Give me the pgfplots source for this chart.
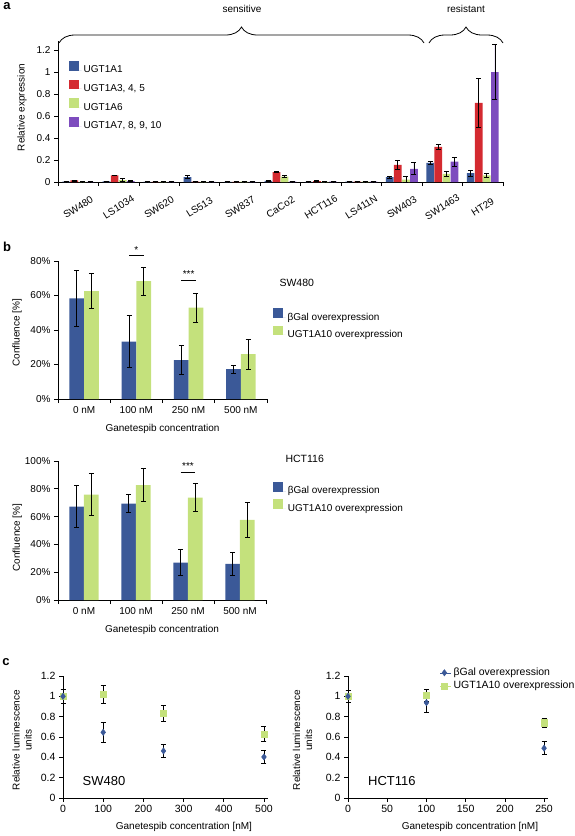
\documentclass[border=0pt]{standalone}
\usepackage{pgfplots}
\pgfplotsset{compat=1.18}
\usepackage{pgfplotstable}
\usepackage{fontspec}
\setmainfont{Liberation Sans}
\usetikzlibrary{decorations.pathreplacing}
\definecolor{cblue}{HTML}{3B5998}
\definecolor{cred}{HTML}{D42A30}
\definecolor{cgreen}{HTML}{C4E17C}
\definecolor{cpurple}{HTML}{7D4CBE}

\pgfplotstableread{
x a1 e1 a3 e3 a6 e6 a7 e7
0 0.004 0.002 0.014 0.004 0.002 0.001 0.002 0.001
1 0.005 0.002 0.060 0.004 0.018 0.015 0.008 0.004
2 0.002 0.001 0.002 0.001 0.002 0.001 0.002 0.001
3 0.045 0.015 0.003 0.001 0.002 0.001 0.002 0.001
4 0.002 0.001 0.002 0.001 0.003 0.001 0.002 0.001
5 0.010 0.003 0.090 0.006 0.050 0.006 0.003 0.001
6 0.002 0.001 0.008 0.004 0.002 0.001 0.004 0.002
7 0.003 0.001 0.003 0.001 0.003 0.001 0.003 0.001
8 0.045 0.008 0.155 0.040 0.022 0.025 0.120 0.055
9 0.175 0.015 0.320 0.025 0.075 0.022 0.185 0.040
10 0.080 0.025 0.720 0.220 0.060 0.022 1.000 0.250
}\tabA

\pgfplotstableread{
x b eb g eg
0 58.3 16.3 62.5 10.2
1 33.3 15.0 68.3 8.2
2 22.5 8.5 53.0 8.5
3 17.3 2.3 26.0 8.7
}\tabBa

\pgfplotstableread{
x b eb g eg
0 67.2 15.0 75.8 15.0
1 69.3 6.5 82.6 12.0
2 26.9 9.5 73.6 10.2
3 26.0 8.5 57.6 12.3
}\tabBb

\pgfplotstableread{
x b eb g eg
0 1.00 0.07 1.00 0.07
100 0.646 0.10 1.02 0.09
250 0.463 0.06 0.835 0.077
500 0.404 0.067 0.63 0.073
}\tabCa

\pgfplotstableread{
x b eb g eg
0 1.00 0.06 1.00 0.06
100 0.938 0.10 1.01 0.055
250 0.49 0.065 0.74 0.045
}\tabCb

\pgfplotsset{
  mybase/.style={
    scale only axis, anchor=south west,
    axis lines=left,
    axis line style={-, black, line width=0.7pt},
    tick align=outside,
    major tick length=4pt, minor tick length=4pt,
    tick style={black, line width=0.7pt},
    /pgf/number format/assume math mode=true,
    tick label style={font=\fontsize{10}{12}\selectfont, black},
    label style={font=\fontsize{10}{12}\selectfont},
    legend style={draw=none, fill=none, font=\fontsize{10}{12}\selectfont, legend cell align=left},
    clip=false,
  },
  ebar/.style={error bars/.cd, y dir=both, y explicit,
    error bar style={draw=black, line width=0.8pt},
    error mark options={rotate=90, draw=black, mark size=2.5pt, line width=0.8pt}},
  patchleg/.style={legend image code/.code={\fill[##1] (0pt,-0.5pt) rectangle (9.5pt,9pt); \path (0pt,0pt) -- (12.5pt,0pt);}},
  markleg/.style={legend image code/.code={\draw[only marks, ##1] plot coordinates {(4pt,0pt)}; \path (0pt,0pt) -- (11pt,0pt);}},
  bpanel/.style={mybase, ybar=0pt, bar width=0.28,
    xmin=-0.5, xmax=3.5, ymin=0,
    xtick={0,1,2,3}, xticklabels={0 nM,100 nM,250 nM,500 nM},
    major x tick style={draw=none}, minor xtick={-0.5,0.5,1.5,2.5,3.5},
    yticklabel={\pgfmathprintnumber{\tick}\%},
    xlabel={Ganetespib concentration},
    ylabel={Confluence [\%]},
    patchleg,
    legend style={row sep=2pt},
  },
  cpanel/.style={mybase, ymin=0, ymax=1.2,
    ytick={0,0.2,0.4,0.6,0.8,1,1.2},
    tick label style={font=\fontsize{10.5}{12.5}\selectfont},
    label style={font=\fontsize{10.5}{12.5}\selectfont},
    xlabel={Ganetespib concentration [nM]},
    ylabel={Relative luminescence\\units},
  },
}

\begin{document}
\begin{tikzpicture}[x=1pt,y=1pt]
\path[use as bounding box] (0,0) rectangle (575,-836);

% ---------------- panel a ----------------
\node[font=\bfseries\fontsize{13}{15}\selectfont] at (7,-6) {a};
\begin{axis}[mybase, at={(58pt,-182pt)}, width=445pt, height=140.8pt,
  ybar=0.4pt, bar width=0.19,
  xmin=-0.5, xmax=10.5, ymin=0, ymax=1.28,
  xtick={0,...,10},
  xticklabels={SW480,LS1034,SW620,LS513,SW837,CaCo2,HCT116,LS411N,SW403,SW1463,HT29},
  major x tick style={draw=none},
  minor xtick={-0.5,0.5,...,10.5},
  xticklabel style={yshift=-21pt, rotate=32, anchor=center},
  ytick={0,0.2,0.4,0.6,0.8,1,1.2},
  ylabel={Relative expression},
  every axis y label/.style={at={(axis description cs:-0.081,0.53)}, rotate=90, anchor=center},
  patchleg,
  legend style={at={(0.018,0.875)}, anchor=north west, row sep=3.5pt},
]
\addplot[fill=cblue, draw=none, ebar] table[x=x, y=a1, y error=e1] {\tabA};
\addlegendentry{UGT1A1}
\addplot[fill=cred, draw=none, ebar] table[x=x, y=a3, y error=e3] {\tabA};
\addlegendentry{UGT1A3, 4, 5}
\addplot[fill=cgreen, draw=none, ebar] table[x=x, y=a6, y error=e6] {\tabA};
\addlegendentry{UGT1A6}
\addplot[fill=cpurple, draw=none, ebar] table[x=x, y=a7, y error=e7] {\tabA};
\addlegendentry{UGT1A7, 8, 9, 10}
\end{axis}
\draw[decorate, decoration={brace, amplitude=16pt}, line width=0.8pt] (59,-43) -- (424,-43);
\draw[decorate, decoration={brace, amplitude=16pt}, line width=0.8pt] (429,-43) -- (503,-43);
\node[font=\fontsize{10}{12}\selectfont] at (242,-9) {sensitive};
\node[font=\fontsize{10}{12}\selectfont] at (466,-9) {resistant};

% ---------------- panel b (SW480) ----------------
\node[font=\bfseries\fontsize{13}{15}\selectfont] at (7,-247) {b};
\begin{axis}[bpanel, at={(58pt,-399pt)}, width=209pt, height=138pt, ymax=80,
  ytick={0,20,40,60,80},
  every axis y label/.style={at={(axis description cs:-0.196,0.48)}, rotate=90, anchor=center},
  every axis x label/.style={at={(axis description cs:0.5,-0.217)}, anchor=center},
  legend style={at={(1.014,0.674)}, anchor=north west},
]
\addplot[fill=cblue, draw=none, ebar] table[x=x, y=b, y error=eb] {\tabBa};
\addlegendentry{βGal overexpression}
\addplot[fill=cgreen, draw=none, ebar] table[x=x, y=g, y error=eg] {\tabBa};
\addlegendentry{UGT1A10 overexpression}
\draw[line width=0.8pt] (axis cs:0.86,83) -- (axis cs:1.14,83) node[midway, above=-1.5pt, font=\fontsize{10}{12}\selectfont] {*};
\draw[line width=0.8pt] (axis cs:1.86,69) -- (axis cs:2.14,69) node[midway, above=-1.5pt, font=\fontsize{10}{12}\selectfont] {***};
\end{axis}
\node[anchor=west, font=\fontsize{10.5}{12}\selectfont] at (276,-283) {SW480};

% ---------------- panel b (HCT116) ----------------
\begin{axis}[bpanel, at={(58pt,-600pt)}, width=208pt, height=139pt, ymax=100,
  ytick={0,20,40,60,80,100},
  every axis y label/.style={at={(axis description cs:-0.196,0.45)}, rotate=90, anchor=center},
  every axis x label/.style={at={(axis description cs:0.5,-0.216)}, anchor=center},
  legend style={at={(1.02,0.864)}, anchor=north west},
]
\addplot[fill=cblue, draw=none, ebar] table[x=x, y=b, y error=eb] {\tabBb};
\addlegendentry{βGal overexpression}
\addplot[fill=cgreen, draw=none, ebar] table[x=x, y=g, y error=eg] {\tabBb};
\addlegendentry{UGT1A10 overexpression}
\draw[line width=0.8pt] (axis cs:1.86,92) -- (axis cs:2.14,92) node[midway, above=-1.5pt, font=\fontsize{10}{12}\selectfont] {***};
\end{axis}
\node[anchor=west, font=\fontsize{10.5}{12}\selectfont] at (282,-459) {HCT116};

% ---------------- panel c ----------------
\node[font=\bfseries\fontsize{13}{15}\selectfont] at (6,-662) {c};
\begin{axis}[cpanel, at={(63pt,-798pt)}, width=205pt, height=122pt,
  xmin=0, xmax=510, xtick={0,100,200,300,400,500},
  every axis y label/.style={at={(axis description cs:-0.2,0.475)}, rotate=90, anchor=center, align=center},
  every axis x label/.style={at={(axis description cs:0.59,-0.238)}, anchor=center},
]
\addplot[only marks, mark=square*, mark size=3.2pt, color=cgreen, ebar] table[x=x, y=g, y error=eg] {\tabCa};
\addplot[only marks, mark=diamond*, mark size=3.2pt, color=cblue, ebar] table[x=x, y=b, y error=eb] {\tabCa};
\node[font=\fontsize{13}{15}\selectfont] at (axis cs:102,0.17) {SW480};
\end{axis}

\begin{axis}[cpanel, at={(348pt,-798pt)}, width=200pt, height=122pt,
  xmin=0, xmax=255, xtick={0,50,100,150,200,250},
  every axis y label/.style={at={(axis description cs:-0.2275,0.475)}, rotate=90, anchor=center, align=center},
  every axis x label/.style={at={(axis description cs:0.61,-0.238)}, anchor=center},
  legend style={at={(0.445,1.098)}, anchor=north west, row sep=0pt, font=\fontsize{10.5}{12.5}\selectfont},
  markleg,
  reverse legend,
]
\addplot[only marks, mark=square*, mark size=3.2pt, color=cgreen, ebar] table[x=x, y=g, y error=eg] {\tabCb};
\addlegendentry{UGT1A10 overexpression}
\addplot[only marks, mark=diamond*, mark size=3.2pt, color=cblue, ebar] table[x=x, y=b, y error=eb] {\tabCb};
\addlegendentry{βGal overexpression}
\node[font=\fontsize{13}{15}\selectfont] at (axis cs:56,0.17) {HCT116};
\end{axis}
\end{tikzpicture}
\end{document}
